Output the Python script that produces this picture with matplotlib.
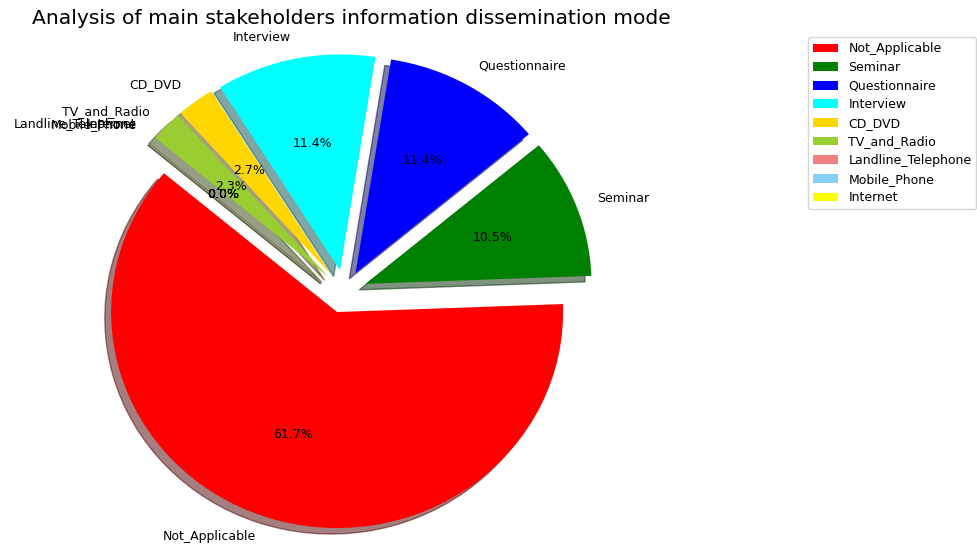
import matplotlib
matplotlib.use("Agg")
import matplotlib.pyplot as plt

plt.rcParams['font.size'] = 9

# dissemination modes and their share of responses (%)
modes = ['Not_Applicable', 'Seminar', 'Questionnaire', 'Interview', 'CD_DVD',
         'TV_and_Radio', 'Landline_Telephone', 'Mobile_Phone', 'Internet']
shares = [61.7, 10.5, 11.4, 11.4, 2.7, 2.3, 0.0, 0.0, 0.0]
colors = ['red', 'green', 'blue', 'cyan', 'gold', 'yellowgreen',
          'lightcoral', 'lightskyblue', 'yellow']
explode = [0.1] * len(modes)

fig = plt.figure(figsize=(9.77, 5.47), dpi=100)
ax = fig.add_axes([0.0634, -0.0267, 0.5783, 0.9872])

wedges, texts, autotexts = ax.pie(shares, explode=explode, labels=modes,
                                  colors=colors, autopct='%1.1f%%',
                                  shadow=True, startangle=140)
# pie is slightly squashed vertically
ax.set_aspect('auto')
ax.set_xlim(-1.25, 1.25)
ax.set_ylim(-1.25, 1.25)

fig.text(351 / 977, 1 - 18 / 547,
         'Analysis of main stakeholders information dissemination mode',
         ha='center', va='center', fontsize=14.6)

fig.legend(wedges, modes, loc='upper left', labelspacing=0.45,
           bbox_to_anchor=(802 / 977, 1 - 31 / 547), fontsize=9)

fig.savefig('out.png', dpi=100)
